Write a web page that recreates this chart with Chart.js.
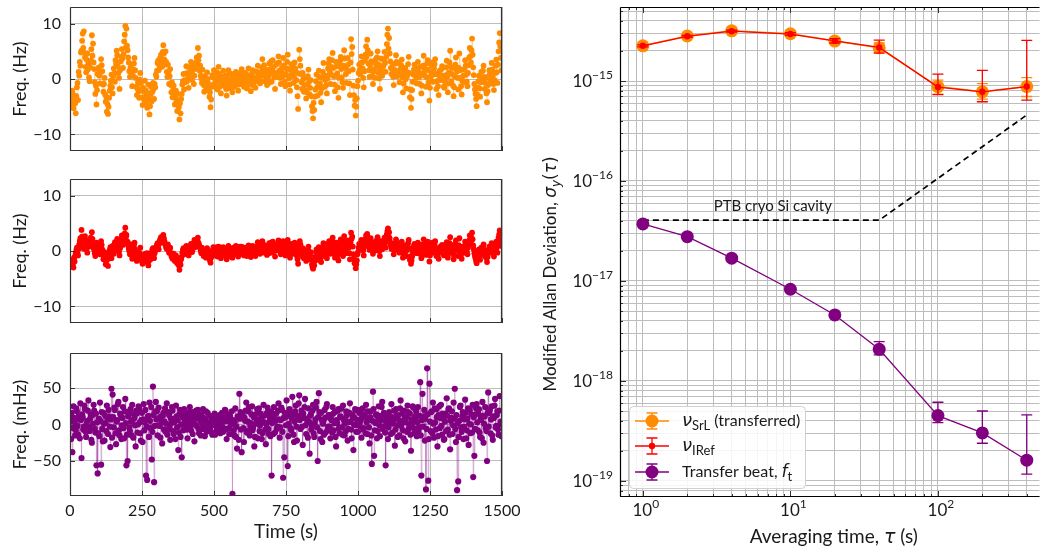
<!DOCTYPE html>
<html><head><meta charset="utf-8">
<script src="https://cdn.jsdelivr.net/npm/chart.js@4.4.1/dist/chart.umd.min.js"></script>
<style>
html,body{margin:0;padding:0;background:#fff;width:1046px;height:549px;overflow:hidden}
.c{position:absolute}
</style></head><body>
<div class="c" style="left:0;top:0;width:520px;height:160px"><canvas id="p1"></canvas></div>
<div class="c" style="left:0;top:172px;width:520px;height:160px"><canvas id="p2"></canvas></div>
<div class="c" style="left:0;top:346px;width:520px;height:203px"><canvas id="p3"></canvas></div>
<div class="c" style="left:530px;top:0;width:516px;height:549px"><canvas id="p4"></canvas></div>
<script>
// ---------- data ----------
const timeStepS = 2; // sampling of the time series (s)
const timeTicks = [0, 250, 500, 750, 1000, 1250, 1500];

const srlFreqHz = [
-3.2,-2.6,-4.8,-3.5,-2.1,-4.1,-5.3,-2.9,-3.9,-4.4,-6.2,-3.1,-1.5,-0.7,-3.8,1.3,0.6,3.1,2.4,4.8,5.1,6.9,8.2,5.6,8.6,4.7,3.9,2.2,1.2,3.5,4.6,1.7,2.8,0.3,-0.4,2.1,3.3,5.4,7.9,4.2,6.4,3.0,1.8,-0.6,-2.7,-1.2,-4.6,-2.0,0.9,1.9,
2.1,0.6,-0.8,1.3,3.6,2.5,1.4,-1.0,-2.3,-0.9,0.2,-2.8,-4.1,-3.2,-5.9,-4.5,-6.3,-5.0,-3.4,-2.1,-1.2,-0.3,0.8,-1.5,-2.6,0.5,1.9,1.0,-0.5,3.4,2.7,5.1,4.3,2.3,1.1,0.2,-1.8,1.6,3.2,4.0,5.4,3.7,2.0,4.5,6.8,8.0,9.6,5.7,9.1,6.0,
5.2,3.9,3.0,1.4,0.4,2.0,2.6,0.9,-1.3,0.6,1.7,2.8,3.8,1.6,0.2,-1.4,-2.9,-1.7,-0.6,-2.3,-3.4,-0.1,1.1,-0.8,-1.9,-3.3,-4.7,-1.6,-2.2,-3.8,-0.3,-2.0,-3.1,-4.3,-5.2,-2.5,-1.0,-3.6,-6.4,-4.9,-2.8,-1.4,-4.0,-2.3,-0.7,-1.8,-3.6,-0.9,-1.5,0.8,
0.4,1.5,2.9,3.3,1.6,2.5,3.7,2.8,4.4,3.6,2.2,4.9,6.1,4.6,3.5,2.6,5.0,3.1,1.3,0.4,2.6,1.2,-0.9,0.5,1.8,-1.1,-2.4,-0.6,-3.3,-2.0,-1.2,-3.0,-4.6,-3.4,-2.1,-4.0,-5.8,-2.7,-3.9,-5.1,-7.3,-4.4,-6.2,-3.6,-2.7,-1.0,-0.4,0.9,-1.9,-0.2,
-0.6,1.0,2.3,-0.4,0.9,0.1,-1.6,0.5,1.4,2.2,3.1,1.1,-0.2,0.8,2.0,-0.9,0.6,2.6,1.8,3.0,3.9,2.1,5.6,3.4,4.2,1.5,2.4,0.6,0.1,-0.7,1.7,0.3,-1.1,-2.3,0.5,-0.5,-2.0,-1.4,1.2,0.0,-0.8,-1.9,-3.2,-2.4,-5.1,-3.7,-1.4,0.7,0.3,-1.0,
1.6,0.2,-0.7,-1.5,0.8,1.2,-1.9,0.0,2.2,0.9,-0.4,-1.3,-2.6,-1.0,0.3,-0.6,1.5,0.4,-1.2,0.6,-0.1,-1.8,-3.0,-0.8,0.7,1.6,-1.7,-0.3,1.0,-1.1,-0.5,0.5,-2.4,-1.5,0.9,-0.2,-1.3,0.2,1.3,-0.6,-0.2,0.8,-2.1,-1.0,0.4,1.1,-0.9,0.1,1.8,-0.4,
0.2,1.0,-1.4,-0.5,1.1,0.3,-0.6,-1.7,0.5,-0.2,1.9,0.7,-1.0,0.4,-2.2,-0.9,0.8,1.6,-0.3,-1.2,1.4,0.2,-1.6,-0.4,0.1,1.3,2.4,0.9,0.6,-0.1,-0.8,0.5,1.2,2.1,3.6,1.4,0.9,2.5,-0.4,0.6,1.7,0.0,-1.1,1.2,0.3,-0.7,2.8,1.8,1.0,3.2,
-0.5,1.6,3.4,2.2,1.2,0.3,-1.8,0.8,2.6,1.0,0.4,2.9,4.1,3.0,1.5,0.2,-0.9,1.2,2.0,0.5,3.8,2.4,0.7,-0.5,-1.3,0.9,1.9,3.1,4.4,1.8,0.1,-1.0,-2.1,0.6,2.7,1.5,0.6,2.3,-0.7,0.4,3.0,1.9,1.3,-0.2,-1.5,-3.1,-5.4,1.0,5.3,3.6,
2.4,0.9,-0.6,-1.8,1.1,0.0,-2.3,-1.1,0.3,-2.0,-3.5,-2.4,-1.0,0.5,1.7,-0.5,-2.8,-1.6,-0.2,-3.1,-4.9,-5.8,-7.1,-4.3,-5.6,-3.2,-1.9,-0.4,0.8,-1.5,-3.0,-0.9,1.5,0.4,-0.8,-2.5,-4.2,-1.7,0.2,1.3,2.9,0.7,-1.4,-0.2,0.6,-1.1,-2.6,0.1,1.9,2.8,
3.6,1.3,-0.9,0.8,2.2,3.4,4.7,2.0,0.5,-1.0,-2.2,0.6,3.1,2.3,1.0,-1.5,-3.4,0.2,2.5,3.3,4.0,1.8,0.3,-0.6,-1.6,2.4,5.2,3.7,2.1,0.9,-0.7,1.6,3.8,2.6,1.4,-0.8,-2.9,3.0,7.2,4.5,5.8,1.7,-1.2,-2.9,-4.8,-3.8,-6.6,-5.0,-3.5,-1.3,
-0.3,1.1,2.6,1.7,0.8,2.9,4.1,3.0,1.9,0.2,-1.5,1.4,3.3,4.4,5.9,4.0,7.1,5.2,2.8,1.6,0.4,2.5,4.6,3.2,1.5,0.5,-0.9,1.3,3.0,1.8,0.2,3.6,2.2,3.9,5.0,2.7,1.1,0.1,-1.8,1.9,3.7,2.1,0.6,1.5,2.4,3.5,4.9,2.9,1.3,4.0,
6.3,8.0,9.1,5.5,7.4,4.6,3.2,2.0,0.9,1.9,2.7,0.4,-1.1,0.6,1.6,2.8,4.3,3.1,0.5,1.4,2.9,1.0,-0.6,0.8,1.8,2.5,3.5,0.3,-2.4,-0.8,0.7,1.5,2.0,0.0,-1.7,0.5,1.2,2.7,4.0,1.1,-3.3,-1.9,-5.2,-3.6,-2.0,-0.5,0.8,1.7,2.6,0.9,
1.4,0.2,-0.8,1.9,3.1,1.3,0.3,-0.9,2.2,0.7,-2.6,-1.2,1.0,2.4,4.2,2.0,0.6,1.5,-1.4,0.3,2.8,3.4,1.7,-0.6,-3.9,-1.6,0.4,1.2,2.5,3.0,-0.5,0.8,1.9,2.7,3.6,0.9,-1.8,-0.4,0.9,-1.3,-2.9,-0.1,1.5,0.6,-0.2,1.8,2.3,0.5,0.1,-1.4,
-1.6,-0.5,0.7,2.1,3.3,0.4,-2.4,-0.8,1.2,3.0,5.1,2.2,-0.4,0.9,2.0,-1.2,-3.1,-1.5,0.5,2.6,3.9,1.9,1.4,0.2,-1.9,2.0,4.6,1.6,0.2,-1.3,-2.8,-0.3,1.7,0.6,-0.6,1.8,3.4,2.4,0.8,-0.5,-1.3,1.1,2.5,3.9,5.6,4.1,3.0,5.2,7.3,4.4,
2.1,0.7,-0.9,-1.9,-2.7,-3.6,-4.9,-2.8,-1.5,-0.4,0.6,-1.7,-3.2,-0.6,1.3,0.2,-0.5,1.5,2.4,0.4,-1.8,-0.7,0.2,-2.6,-4.2,-2.2,-1.1,0.5,1.6,0.9,-0.3,1.4,2.9,1.7,0.4,-0.9,-2.0,-0.2,1.1,2.4,3.5,1.2,-0.7,2.6,5.0,6.6,8.3,5.9,3.8,1.6
];

const irefFreqHz = [
-2.1,-1.7,-2.8,-2.3,-1.6,-2.5,-3.0,-1.2,-1.9,-0.9,-0.4,0.2,0.6,-0.3,-0.8,0.4,1.2,1.8,2.3,1.4,3.8,2.6,1.6,0.9,0.4,1.3,2.7,2.0,1.1,0.5,-0.3,0.8,1.9,1.2,0.8,1.6,2.4,1.0,3.4,2.2,1.3,0.6,0.2,-0.4,-0.9,0.7,1.5,1.1,0.5,-0.2,
1.0,0.3,-0.6,0.8,1.8,1.1,0.3,-0.7,-1.5,-0.9,-0.2,-1.6,-2.4,-1.8,-1.1,-0.6,-2.7,-1.4,-0.4,0.2,0.7,-0.1,-1.3,-0.4,0.9,0.4,-0.5,0.9,1.6,1.2,0.2,1.5,2.2,1.0,0.6,-0.2,-0.8,0.5,1.4,2.0,2.8,1.7,1.1,1.9,2.3,3.2,4.2,2.5,2.9,1.5,
1.7,1.0,0.4,0.0,-0.6,0.6,1.2,-0.3,-1.4,-0.5,0.5,1.0,1.5,0.3,-0.9,-1.3,-1.8,-0.8,-0.3,-1.5,-1.2,-0.4,0.6,-0.9,-1.6,-1.9,-2.3,-1.2,-0.7,-1.6,-1.0,-0.5,-1.9,-1.4,-0.4,-2.0,-2.6,-1.8,-1.1,-0.6,-1.5,-0.9,-0.2,0.3,0.5,-0.7,-1.3,-0.4,0.1,0.6,
0.8,1.1,1.4,0.7,0.3,1.3,1.9,2.2,2.5,2.0,1.6,2.4,2.9,2.3,1.8,1.3,1.0,0.6,0.4,0.9,1.2,0.2,-0.3,0.1,0.6,-0.4,-0.9,-1.1,-1.4,-0.8,-0.5,-1.2,-1.8,-1.0,-0.8,-1.6,-2.2,-1.7,-1.3,-2.6,-3.4,-2.0,-2.5,-1.5,-1.0,-0.3,0.2,0.5,-0.6,0.0,
-0.3,0.4,0.9,-0.2,0.4,0.1,-0.8,-0.3,0.6,0.9,1.3,0.5,-0.2,0.3,0.9,1.4,2.0,1.1,0.7,1.0,1.6,1.9,2.4,1.5,1.2,0.8,0.5,0.0,-0.4,0.6,0.3,-0.5,-0.9,-0.3,0.1,-0.6,-1.2,-0.2,0.5,0.2,-0.6,-1.0,-1.4,-1.7,-2.1,-1.2,-0.7,-0.2,0.2,0.7,
0.6,0.1,-0.4,-0.8,0.3,0.7,-1.0,-0.3,0.8,0.2,-0.2,-0.6,-1.3,-0.5,0.1,0.5,0.7,-0.1,-0.7,0.3,0.0,-0.9,-1.5,-0.6,0.4,0.9,-0.9,-0.2,0.5,-0.4,-0.3,0.2,-1.2,-0.7,0.6,0.0,-0.6,0.4,0.9,-0.3,-0.1,0.5,-1.0,-0.4,0.3,0.8,-0.5,0.1,0.8,-0.2,
0.1,0.6,-0.8,-0.2,0.6,0.1,-0.4,-0.9,0.2,0.5,1.0,0.3,-0.6,0.2,-1.1,-0.4,0.4,0.9,-0.2,-0.7,0.7,0.2,-0.9,-0.3,0.0,0.8,1.6,0.5,0.3,-0.2,-0.5,0.4,0.6,1.2,1.8,0.7,0.4,1.1,-0.3,0.2,0.9,-0.1,-0.7,0.5,0.2,-0.4,1.4,0.9,0.5,1.5,
-0.3,0.8,1.7,1.1,0.6,0.0,-1.0,0.4,1.2,0.5,0.1,1.3,1.9,1.4,0.7,-0.1,-0.6,0.5,1.0,0.2,1.8,1.2,0.3,-0.4,-0.8,0.6,0.9,1.6,2.0,0.8,0.0,-0.6,-1.2,0.2,1.3,0.7,0.3,1.0,-0.5,0.1,1.5,1.0,0.6,-0.3,-0.9,-1.5,-2.3,0.3,1.1,1.8,
1.2,0.5,-0.4,-0.9,0.5,0.0,-1.3,-0.6,0.1,-1.0,-1.8,-1.2,-0.6,0.3,0.8,-0.3,-1.5,-0.8,-0.2,-1.6,-2.4,-2.9,-3.2,-2.2,-2.6,-1.7,-1.0,-0.2,0.3,-0.7,-1.6,-0.4,0.7,0.2,-0.5,-1.3,-2.0,-0.9,0.0,0.6,1.4,0.4,-0.8,-0.1,0.2,-0.6,-1.3,0.1,0.9,1.4,
1.8,0.7,-0.5,0.4,1.1,1.7,2.4,1.0,0.2,-0.5,-1.2,0.3,1.5,1.1,0.4,-0.8,-1.7,0.0,1.2,1.6,2.1,0.9,0.1,-0.3,-0.9,1.2,2.7,1.8,1.0,0.3,-0.4,0.8,1.9,1.3,0.6,-0.4,-1.5,1.5,3.3,2.2,2.6,0.8,-0.6,-1.4,-2.2,-1.8,-3.1,-2.4,-1.7,-0.6,
-0.2,0.6,1.3,0.9,0.4,1.5,2.0,1.4,0.9,0.1,-0.8,0.7,1.6,2.2,2.8,2.0,3.1,2.5,1.4,0.8,0.2,1.2,2.3,1.6,0.7,0.2,-0.5,0.6,1.5,0.9,0.1,1.8,1.1,1.9,2.5,1.3,0.5,0.0,-0.9,1.0,1.8,1.1,0.3,0.7,1.2,1.8,2.4,1.4,0.6,2.1,
3.0,3.6,4.1,2.7,3.4,2.3,1.6,1.0,0.4,0.9,1.3,0.3,-0.6,0.2,0.8,1.5,2.1,1.4,0.2,0.7,1.4,0.5,-0.3,0.4,0.9,1.3,1.7,0.1,-1.2,-0.5,0.3,0.8,1.0,0.0,-0.9,0.2,0.6,1.4,2.0,0.5,-1.6,-1.0,-2.3,-1.7,-1.0,-0.3,0.4,0.9,1.3,0.4,
0.7,0.2,-0.4,0.9,1.5,0.6,0.1,-0.5,1.1,0.3,-1.3,-0.6,0.5,1.2,2.1,1.0,0.3,0.8,-0.7,0.1,1.4,1.7,0.8,-0.3,-1.9,-0.8,0.2,0.6,1.2,1.5,-0.3,0.4,0.9,1.3,1.8,0.5,-0.9,-0.2,0.4,-0.6,-1.4,0.0,0.7,0.3,-0.1,0.9,1.1,0.2,0.0,-0.7,
-0.8,-0.2,0.3,1.0,1.6,0.2,-1.2,-0.4,0.6,1.4,2.5,1.1,-0.2,0.5,1.0,-0.6,-1.5,-0.7,0.2,1.3,1.9,1.0,0.7,0.1,-0.9,1.0,2.3,0.8,0.1,-0.6,-1.4,-0.1,0.8,0.3,-0.3,0.9,1.7,1.2,0.4,-0.2,-0.6,0.6,1.2,1.9,2.8,2.0,1.5,2.4,3.3,2.1,
1.0,0.3,-0.4,-0.9,-1.3,-1.8,-2.2,-1.4,-0.7,-0.1,0.3,-0.8,-1.6,-0.3,0.6,0.1,-0.2,0.7,1.2,0.2,-0.9,-0.4,0.1,-1.3,-2.0,-1.1,-0.5,0.2,0.8,0.4,-0.1,0.6,1.4,0.8,0.2,-0.5,-1.0,-0.1,0.5,1.2,1.7,0.6,-0.3,1.1,2.4,3.0,3.7,2.6,1.9,0.9
];

const beatFreqMHz = [
12,4,-20,16,-38,-5,25,9,3,-15,-8,22,18,-2,-14,11,7,-19,29,6,-46,14,10,-7,-3,26,21,-10,-17,2,5,19,33,-4,-9,8,14,-21,-25,13,1,27,19,-6,-11,15,-56,3,-67,-12,
8,-16,30,5,-55,17,-6,-23,16,1,-22,12,2,-9,26,8,-13,20,11,-3,-31,7,49,-18,41,10,-4,23,20,-12,-27,4,6,28,31,-8,-15,15,13,-20,-1,9,24,-5,-19,18,35,2,-56,-14,
-50,11,17,-4,-9,21,4,-15,27,6,-18,14,9,-1,-30,19,15,-11,0,25,22,3,-12,-22,6,16,-24,7,28,-8,3,20,-70,-3,-76,10,12,-17,30,5,-5,24,-48,-10,52,13,-79,-2,18,31,
7,18,-15,-1,23,9,-2,-18,11,4,-26,12,16,-7,4,22,-10,1,29,-14,-7,17,13,-4,-21,8,2,24,19,-9,-13,3,8,-20,26,11,-4,6,-35,-11,14,20,-17,0,-45,15,10,-8,21,5,
-3,10,15,-7,-19,3,8,17,24,-2,-8,12,1,-13,17,6,-23,0,11,19,-2,9,20,-6,-12,13,5,-15,14,2,-6,21,9,-4,-16,7,18,-10,3,16,-9,1,12,-5,-1,11,7,-14,-11,4,
6,15,-14,-2,10,-8,2,12,-7,3,13,-12,-3,7,16,-4,-10,10,4,20,19,-6,-20,5,8,14,-5,-13,11,1,0,18,-95,6,-8,-15,3,22,-17,-3,-33,11,9,-21,42,8,17,-7,-38,13,
12,-5,-24,9,5,19,30,-11,-9,4,18,24,-15,-2,2,14,25,-8,-4,10,-30,-17,14,1,7,21,-19,6,22,-9,-1,15,9,-20,-12,3,27,12,3,-7,-27,0,16,23,-6,-13,11,5,-16,18,
-70,2,8,-13,24,13,-11,5,15,-6,-3,19,29,7,-18,-4,6,23,20,-10,-73,9,-45,16,10,-1,33,12,-57,-16,1,21,17,-5,-8,8,38,14,-14,-24,4,18,26,-3,-22,10,12,29,40,6,
-6,11,19,-3,-28,15,9,24,35,-1,-13,8,3,-18,22,4,-40,12,14,-7,-2,19,27,-12,-17,2,7,23,31,-4,-50,10,43,17,-9,-20,16,6,-24,1,5,-14,20,9,-11,24,28,-8,-3,13,
13,-3,-19,8,6,-11,24,15,-8,2,17,-17,-30,6,2,19,21,-5,-12,11,10,22,-4,-14,26,7,-15,1,8,-9,18,13,-22,-6,3,16,29,4,-7,-19,14,9,-35,0,9,21,-1,-10,20,5,
-10,6,16,-2,4,20,-18,9,22,-7,-5,14,11,-12,27,3,-13,18,7,-4,-26,10,18,-15,-54,5,45,21,-43,-8,2,13,14,-19,-9,7,25,-1,-16,12,6,24,31,-6,-3,16,12,-11,-56,3,
9,14,-20,-4,17,5,3,-13,28,10,-11,1,6,19,-29,-7,21,12,-1,-17,13,6,-15,22,33,-2,4,15,-8,-19,19,8,-23,3,10,-10,26,17,-6,0,15,-14,-36,7,2,25,23,-5,-12,11,
7,18,-16,3,24,-9,-4,12,58,-15,-70,6,42,-3,11,20,-22,8,-89,-6,77,14,-77,-20,56,4,-9,17,18,-12,30,1,-18,22,3,-7,21,10,-30,-16,13,25,-5,9,27,-2,-14,15,8,-21,
-20,4,15,-9,36,12,-7,21,22,-14,-34,5,9,18,-13,-1,30,8,49,-6,-24,13,-90,2,-78,-17,5,24,26,-4,-10,11,17,-20,-3,7,34,16,-19,-8,8,22,-28,1,20,-12,0,14,-11,27,
-72,10,-43,-6,14,22,28,3,-8,15,21,-11,-17,8,6,-19,31,12,-25,1,11,24,-5,-9,-50,16,44,-3,16,20,-12,7,25,-15,-21,11,9,26,35,-4,-2,13,18,-7,-14,19,39,0,4,-16
];

// Allan deviation panel
const tauS = [1, 2, 4, 10, 20, 40, 100, 200, 400];
const srlAdev   = [2.25e-15, 2.82e-15, 3.18e-15, 2.97e-15, 2.51e-15, 2.15e-15, 8.8e-16, 7.8e-16, 8.8e-16];
const srlErrLo  = [2.17e-15, 2.74e-15, 3.08e-15, 2.87e-15, 2.36e-15, 1.95e-15, 7.4e-16, 6.6e-16, 7.0e-16];
const srlErrHi  = [2.33e-15, 2.90e-15, 3.28e-15, 3.08e-15, 2.68e-15, 2.40e-15, 1.02e-15, 9.4e-16, 1.08e-15];
const irefAdev  = [2.25e-15, 2.80e-15, 3.15e-15, 2.95e-15, 2.52e-15, 2.17e-15, 8.7e-16, 7.8e-16, 8.8e-16];
const irefErrLo = [2.20e-15, 2.74e-15, 3.08e-15, 2.86e-15, 2.40e-15, 1.90e-15, 7.3e-16, 6.2e-16, 6.45e-16];
const irefErrHi = [2.30e-15, 2.86e-15, 3.22e-15, 3.04e-15, 2.66e-15, 2.57e-15, 1.17e-15, 1.28e-15, 2.55e-15];
const beatAdev  = [3.72e-17, 2.77e-17, 1.69e-17, 8.26e-18, 4.57e-18, 2.07e-18, 4.5e-19, 3.02e-19, 1.61e-19];
const beatErrLo = [3.65e-17, 2.72e-17, 1.64e-17, 7.9e-18, 4.3e-18, 1.82e-18, 3.83e-19, 2.38e-19, 1.17e-19];
const beatErrHi = [3.80e-17, 2.83e-17, 1.74e-17, 8.6e-18, 4.85e-18, 2.47e-18, 6.12e-19, 5.0e-19, 4.57e-19];
const ptbTauS = [1, 40, 400];
const ptbAdev = [4.05e-17, 4.05e-17, 4.57e-16];
const ptbLabel = 'PTB cryo Si cavity';

// ---------- styling ----------
const FONT = "Lato, 'Open Sans', sans-serif";
const MATH = "'DejaVu Sans', sans-serif";
const GRID = '#bdbdbd';
const TXT = '#1a1a1a';

function richText(ctx, parts, x, y, align) {
  let w = 0;
  parts.forEach(p => { ctx.font = p.f; w += ctx.measureText(p.t).width; });
  let cx = align === 'right' ? x - w : align === 'center' ? x - w / 2 : x;
  parts.forEach(p => { ctx.font = p.f; ctx.fillText(p.t, cx, y + (p.dy || 0)); cx += ctx.measureText(p.t).width; });
}

function framePlugin(color, sides) {
  return {
    id: 'frame',
    afterDraw(chart) {
      const {ctx, chartArea: a, scales} = chart;
      ctx.save();
      ctx.strokeStyle = '#333'; ctx.lineWidth = 1;
      scales.x.ticks.forEach(t => {
        const x = Math.round(scales.x.getPixelForValue(t.value)) + 0.5;
        const len = t.len || 5;
        ctx.beginPath(); ctx.moveTo(x, a.bottom); ctx.lineTo(x, a.bottom - len); ctx.stroke();
        if (sides.top) { ctx.beginPath(); ctx.moveTo(x, a.top); ctx.lineTo(x, a.top + len); ctx.stroke(); }
      });
      scales.y.ticks.forEach(t => {
        const y = Math.round(scales.y.getPixelForValue(t.value)) + 0.5;
        const len = t.len || 5;
        ctx.beginPath(); ctx.moveTo(a.left, y); ctx.lineTo(a.left + len, y); ctx.stroke();
      });
      ctx.strokeStyle = color; ctx.lineWidth = 1.2;
      ctx.beginPath();
      const l = a.left + 0.5, r = a.right - 0.5, t = a.top + 0.5, b = a.bottom - 0.5;
      if (sides.right) { ctx.moveTo(r, b); ctx.lineTo(r, t); }
      ctx.moveTo(l, b); ctx.lineTo(l, t); ctx.moveTo(l, t); ctx.lineTo(r + 0.5, t);
      ctx.moveTo(l, b); ctx.lineTo(r + 0.5, b);
      ctx.stroke();
      ctx.restore();
    }
  };
}

function leftChart(id, values, color, lineColor, lim, step, yTitle, showX, radius) {
  return new Chart(document.getElementById(id), {
    type: 'line',
    data: { datasets: [{
      data: values.map((v, i) => ({ x: i * timeStepS, y: v })),
      borderColor: lineColor, borderWidth: 1, tension: 0,
      pointRadius: radius, pointBackgroundColor: color, pointBorderColor: color, pointBorderWidth: 0
    }]},
    options: {
      responsive: true, maintainAspectRatio: false, animation: false,
      layout: { padding: { top: 7, right: 18, left: 0, bottom: showX ? 6 : 0 } },
      plugins: { legend: { display: false }, tooltip: { enabled: false } },
      scales: {
        x: {
          type: 'linear', min: timeTicks[0], max: timeTicks[timeTicks.length - 1],
          afterBuildTicks: s => { s.ticks = timeTicks.map(v => ({ value: v })); },
          ticks: { display: showX, font: { family: FONT, size: 16 }, color: TXT, padding: 5, maxRotation: 0, autoSkip: false,
                   callback: v => String(v) },
          grid: { color: GRID, drawTicks: false },
          border: { display: false },
          title: { display: showX, text: 'Time (s)', font: { family: FONT, size: 19 }, color: TXT, padding: { top: 0, bottom: 0 } },
          afterFit: s => { s.height = showX ? 47 : 9; s.paddingLeft = 0; s.paddingRight = 0; }
        },
        y: {
          min: -lim, max: lim,
          ticks: { stepSize: step, includeBounds: false, font: { family: FONT, size: 16 }, color: TXT, padding: 9,
                   callback: v => v < 0 ? '\u2212' + Math.abs(v) : String(v) },
          grid: { color: GRID, drawTicks: false },
          border: { display: false },
          title: { display: true, text: yTitle, font: { family: FONT, size: 18 }, color: TXT, padding: { top: 9, bottom: 0 } },
          afterFit: s => { s.width = 70; s.paddingTop = 0; s.paddingBottom = 0; }
        }
      }
    },
    plugins: [framePlugin('#333', { right: true, top: false })]
  });
}

leftChart('p1', srlFreqHz, '#FF8C00', 'rgba(255,140,0,0.18)', 13, 10, 'Freq. (Hz)', false, 2.9);
leftChart('p2', irefFreqHz, '#FF0000', 'rgba(255,0,0,0.18)', 13, 10, 'Freq. (Hz)', false, 2.9);
leftChart('p3', beatFreqMHz, '#800080', 'rgba(128,0,128,0.25)', 98, 50, 'Freq. (mHz)', true, 3.1);

// ---------- Allan deviation chart ----------
function decadeGrid(lo, hi, kmin, kmax) {
  const out = [];
  for (let k = kmin; k <= kmax; k++) for (let n = 1; n <= 9; n++) {
    const v = n * Math.pow(10, k);
    if (v > lo * 1.0001 && v < hi * 0.9999) out.push({ value: v, len: n === 1 ? 6 : 3 });
  }
  return out;
}
const X_MIN = 0.74, X_MAX = 488, Y_MIN = 6.9e-20, Y_MAX = 5.5e-15;

const errorBars = {
  id: 'errorBars',
  beforeDatasetDraw(chart, args) {
    const ds = chart.data.datasets[args.index];
    if (!ds.errLo) return;
    const {ctx} = chart, xs = chart.scales.x, ys = chart.scales.y;
    ctx.save(); ctx.strokeStyle = ds.borderColor; ctx.lineWidth = 1.3;
    ds.data.forEach((p, i) => {
      const x = xs.getPixelForValue(p.x), y1 = ys.getPixelForValue(ds.errLo[i]), y2 = ys.getPixelForValue(ds.errHi[i]);
      ctx.beginPath();
      ctx.moveTo(x, y1); ctx.lineTo(x, y2);
      ctx.moveTo(x - 5.5, y1); ctx.lineTo(x + 5.5, y1);
      ctx.moveTo(x - 5.5, y2); ctx.lineTo(x + 5.5, y2);
      ctx.stroke();
    });
    ctx.restore();
  }
};

const annotations = {
  id: 'annotations',
  afterDraw(chart) {
    const {ctx, scales: {x, y}, chartArea: a} = chart;
    ctx.save();
    ctx.fillStyle = TXT; ctx.textBaseline = 'alphabetic';
    for (let k = -19; k <= -15; k++) {
      const py = y.getPixelForValue(Math.pow(10, k));
      richText(ctx, [{ t: '10', f: `17px ${FONT}` }, { t: '\u2212' + Math.abs(k), f: `12px ${FONT}`, dy: -8 }], a.left - 7, py + 6, 'right');
    }
    for (let k = 0; k <= 2; k++) {
      const px = x.getPixelForValue(Math.pow(10, k));
      richText(ctx, [{ t: '10', f: `17px ${FONT}` }, { t: String(k), f: `12px ${FONT}`, dy: -8 }], px + 3, a.bottom + 19, 'center');
    }
    richText(ctx, [{ t: 'Averaging time, ', f: `19px ${FONT}` }, { t: '\u03C4', f: `italic 19px ${MATH}` }, { t: ' (s)', f: `19px ${FONT}` }],
      (a.left + a.right) / 2 + 4, a.bottom + 46, 'center');
    ctx.save();
    ctx.translate(26, (a.top + a.bottom) / 2 + 22);
    ctx.rotate(-Math.PI / 2);
    richText(ctx, [{ t: 'Modified Allan Deviation, ', f: `17px ${FONT}` }, { t: '\u03C3', f: `italic 17px ${MATH}` },
      { t: 'y', f: `italic 12px ${MATH}`, dy: 4 }, { t: '(', f: `17px ${MATH}` }, { t: '\u03C4', f: `italic 17px ${MATH}` }, { t: ')', f: `17px ${MATH}` }], 0, 0, 'center');
    ctx.restore();
    richText(ctx, [{ t: ptbLabel, f: `15px ${FONT}` }], x.getPixelForValue(7.6), y.getPixelForValue(5.6e-17) + 5, 'center');
    // legend
    const bx = 99, by = 406, bw = 176, bh = 82;
    ctx.fillStyle = 'rgba(255,255,255,0.85)'; ctx.strokeStyle = '#d0d0d0'; ctx.lineWidth = 1;
    ctx.beginPath(); ctx.roundRect(bx + 0.5, by + 0.5, bw, bh, 4); ctx.fill(); ctx.stroke();
    const rows = [
      { c: '#FF8C00', r: 6.5, y: 421, parts: [{ t: '\u03BD', f: `italic 18px ${MATH}` }, { t: 'SrL', f: `13px ${FONT}`, dy: 4 }, { t: ' (transferred)', f: `16px ${FONT}` }] },
      { c: '#FF0000', r: 3.2, y: 446, parts: [{ t: '\u03BD', f: `italic 18px ${MATH}` }, { t: 'IRef', f: `13px ${FONT}`, dy: 4 }] },
      { c: '#800080', r: 6.5, y: 472, parts: [{ t: 'Transfer beat, ', f: `16px ${FONT}` }, { t: 'f', f: `italic 17px ${MATH}` }, { t: 't', f: `13px ${FONT}`, dy: 4 }] }
    ];
    rows.forEach(rw => {
      ctx.strokeStyle = rw.c; ctx.fillStyle = rw.c; ctx.lineWidth = 1.3;
      ctx.beginPath();
      ctx.moveTo(105, rw.y); ctx.lineTo(139, rw.y);
      ctx.moveTo(122, rw.y - 8); ctx.lineTo(122, rw.y + 8);
      ctx.moveTo(116.5, rw.y - 8); ctx.lineTo(127.5, rw.y - 8);
      ctx.moveTo(116.5, rw.y + 8); ctx.lineTo(127.5, rw.y + 8);
      ctx.stroke();
      ctx.beginPath(); ctx.arc(122, rw.y, rw.r, 0, Math.PI * 2); ctx.fill();
      ctx.fillStyle = TXT;
      richText(ctx, rw.parts, 152, rw.y + 5, 'left');
    });
    ctx.restore();
  }
};

const pts = (xs, ys) => xs.map((v, i) => ({ x: v, y: ys[i] }));

new Chart(document.getElementById('p4'), {
  type: 'line',
  data: { datasets: [
    { label: 'SrL', data: pts(tauS, srlAdev), errLo: srlErrLo, errHi: srlErrHi, order: 3,
      borderColor: '#FF8C00', backgroundColor: '#FF8C00', borderWidth: 1.5, pointRadius: 6.5, pointBorderWidth: 0, pointBackgroundColor: '#FF8C00' },
    { label: 'IRef', data: pts(tauS, irefAdev), errLo: irefErrLo, errHi: irefErrHi, order: 2,
      borderColor: '#FF0000', backgroundColor: '#FF0000', borderWidth: 1.3, pointRadius: 3.2, pointBorderWidth: 0, pointBackgroundColor: '#FF0000' },
    { label: 'beat', data: pts(tauS, beatAdev), errLo: beatErrLo, errHi: beatErrHi, order: 1,
      borderColor: '#800080', backgroundColor: '#800080', borderWidth: 1.3, pointRadius: 6.5, pointBorderWidth: 0, pointBackgroundColor: '#800080' },
    { label: 'PTB', data: pts(ptbTauS, ptbAdev), order: 4,
      borderColor: '#000', borderWidth: 1.7, borderDash: [6, 4], pointRadius: 0 }
  ]},
  options: {
    responsive: true, maintainAspectRatio: false, animation: false,
    layout: { padding: { top: 7, right: 0, left: 0, bottom: 0 } },
    plugins: { legend: { display: false }, tooltip: { enabled: false } },
    scales: {
      x: { type: 'logarithmic', min: X_MIN, max: X_MAX,
        afterBuildTicks: s => { s.ticks = decadeGrid(X_MIN, X_MAX, -1, 2); },
        ticks: { display: false }, grid: { color: GRID, drawTicks: false }, border: { display: false },
        afterFit: s => { s.height = 52; s.paddingLeft = 0; s.paddingRight = 0; } },
      y: { type: 'logarithmic', min: Y_MIN, max: Y_MAX,
        afterBuildTicks: s => { s.ticks = decadeGrid(Y_MIN, Y_MAX, -20, -15); },
        ticks: { display: false }, grid: { color: GRID, drawTicks: false }, border: { display: false },
        afterFit: s => { s.width = 90; s.paddingTop = 0; s.paddingBottom = 0; } }
    }
  },
  plugins: [errorBars, framePlugin('#000', { right: false, top: true }), annotations]
});
</script>
</body></html>
